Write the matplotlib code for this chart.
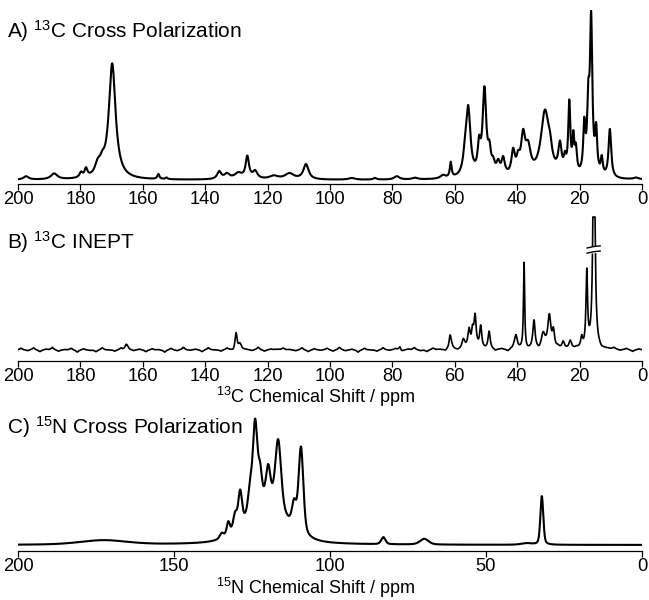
import numpy as np
import matplotlib
matplotlib.use("Agg")
import matplotlib.pyplot as plt

plt.rcParams['font.family'] = ['Liberation Sans', 'DejaVu Sans']
plt.rcParams['mathtext.fontset'] = 'custom'
plt.rcParams['mathtext.rm'] = 'Liberation Sans'
plt.rcParams['mathtext.it'] = 'Liberation Sans:italic'

# peak tables: position (ppm), height, full width (ppm)
cp13_pos = [197.4, 188.4, 179.8, 178.2, 174.5, 173.0, 169.8, 155.0, 152.4, 135.5, 133.0, 129.4,
            126.5, 124.0, 118.0, 113.0, 107.7, 93.0, 85.6, 78.6, 72.8, 63.8, 61.3, 56.7, 55.7,
            52.2, 50.5, 48.9, 47.7, 46.1, 44.5, 41.3, 39.7, 38.1, 36.5, 31.1, 29.5, 26.3, 24.7,
            23.3, 22.0, 21.2, 18.5, 17.2, 16.3, 14.7, 12.9, 10.3, 1.9]
cp13_amp = [0.02, 0.035, 0.03, 0.05, 0.06, 0.06, 0.69, 0.03, 0.01, 0.045, 0.03, 0.035,
            0.13, 0.045, 0.02, 0.035, 0.09, 0.01, 0.01, 0.02, 0.01, 0.02, 0.09, 0.09, 0.40,
            0.16, 0.51, 0.12, 0.06, 0.07, 0.10, 0.14, 0.08, 0.22, 0.15, 0.39, 0.08, 0.17, 0.08,
            0.42, 0.20, 0.14, 0.28, 0.38, 0.90, 0.25, 0.10, 0.29, 0.01]
cp13_wid = [2.0, 2.5, 1.2, 1.1, 2.0, 2.0, 2.6, 0.8, 0.8, 1.6, 2.0, 3.0,
            1.3, 1.8, 3.5, 3.5, 2.0, 2.5, 1.2, 2.0, 2.0, 2.0, 0.7, 1.4, 1.7,
            1.1, 1.4, 1.1, 1.3, 1.3, 1.3, 1.3, 1.3, 1.6, 2.0, 3.2, 1.5, 1.3, 0.9,
            0.8, 0.7, 0.8, 0.8, 0.9, 0.9, 0.8, 0.8, 1.0, 2.0]

inept_pos = [165.4, 130.1, 128.8, 117.0, 77.6, 61.5, 57.3, 55.4, 54.3, 53.5, 51.7, 49.0,
             40.4, 37.8, 34.6, 31.7, 29.7, 28.4, 25.2, 23.0, 19.3, 17.7, 15.4]
inept_amp = [0.04, 0.19, 0.05, 0.03, 0.04, 0.15, 0.09, 0.22, 0.18, 0.34, 0.25, 0.18,
             0.15, 0.97, 0.30, 0.16, 0.37, 0.18, 0.10, 0.08, 0.13, 0.84, 3.0]
inept_wid = [0.8, 0.8, 1.0, 1.3, 0.8, 0.8, 1.0, 1.0, 0.8, 0.8, 0.8, 0.8,
             1.0, 0.45, 0.8, 1.3, 1.2, 0.8, 1.0, 1.0, 0.8, 0.6, 0.7]
inept_noise = [0.02, -0.01, 0.025, -0.02, 0.01, 0.03, -0.015, 0.005, 0.02, -0.025,
               0.015, -0.005, -0.02, 0.025, 0.0, -0.015, 0.02, 0.035, -0.01, 0.01,
               -0.02, 0.015, 0.005, -0.025, 0.02, -0.01, 0.03, -0.005, 0.01, -0.02,
               0.025, 0.0, -0.015, 0.02, -0.02, 0.015, 0.005, -0.01, 0.03, -0.015,
               0.01, -0.025, 0.02, 0.005, -0.01, 0.025, -0.02, 0.015, -0.005, 0.02,
               -0.015, 0.03, -0.01, 0.01, -0.025, 0.02, 0.0, -0.015, 0.025, -0.005,
               0.015, -0.02, 0.01, 0.025, -0.01, -0.02, 0.02, 0.005, -0.015, 0.03,
               -0.01, 0.02, -0.025, 0.015, 0.0, 0.02, -0.015, 0.01, -0.02, 0.025,
               0.005, -0.01, 0.03, -0.02, 0.015, -0.005, 0.02, -0.025, 0.01, 0.015,
               -0.02, 0.01, 0.025, -0.015, 0.005, 0.02, -0.01, 0.015, -0.02, 0.01]

cp15_pos = [172.6, 120.5, 134.7, 132.6, 130.4, 128.8, 125.6, 124.0, 122.4, 119.8, 116.6,
            111.5, 109.3, 82.9, 69.8, 37.0, 32.1]
cp15_amp = [0.035, 0.33, 0.04, 0.10, 0.12, 0.26, 0.18, 0.66, 0.22, 0.26, 0.54,
            0.18, 0.67, 0.055, 0.045, 0.012, 0.38]
cp15_wid = [18.0, 15.0, 1.5, 1.2, 1.5, 1.4, 1.5, 1.7, 1.4, 1.7, 2.2,
            1.6, 1.8, 1.6, 3.2, 4.0, 1.1]

c13_ticks = [200, 180, 160, 140, 120, 100, 80, 60, 40, 20, 0]
n15_ticks = [200, 150, 100, 50, 0]


def spectrum(x, pos, amp, wid, eta=1.0):
    # pseudo-Voigt lines: eta = Lorentzian fraction
    y = np.zeros_like(x)
    for p, a, w in zip(pos, amp, wid):
        lor = 1 / (1 + ((x - p) / (w / 2)) ** 2)
        gau = np.exp(-4 * np.log(2) * ((x - p) / w) ** 2)
        y += a * (eta * lor + (1 - eta) * gau)
    return y


x = np.linspace(200, 0, 4001)
y_a = spectrum(x, cp13_pos, cp13_amp, cp13_wid)
noise_pos = np.arange(199, 0, -2)
y_b = spectrum(x, inept_pos, inept_amp, inept_wid) + spectrum(x, noise_pos, inept_noise, [1.0] * len(noise_pos))
y_b = np.minimum(y_b, 1.494)
y_c = spectrum(x, cp15_pos, cp15_amp, cp15_wid, eta=0.4)

fig = plt.figure(figsize=(6.49, 6.0), dpi=100)
ax_a = fig.add_axes([0.0277, 0.6933, 0.9615, 0.29])
ax_b = fig.add_axes([0.0277, 0.39833, 0.9615, 0.2517])
ax_c = fig.add_axes([0.0277, 0.0817, 0.9615, 0.2383])

ax_a.plot(x, y_a, color='black', lw=1.5)
ax_a.set_ylim(-4 / 167, 170 / 167)
ax_a.set_xticks(c13_ticks)

ax_b.plot(x, y_b, color='black', lw=1.2)
ax_b.set_ylim(-11 / 89, 140 / 89)
ax_b.set_xticks(c13_ticks)
# axis break marks on the truncated peak
ax_b.fill_between([17.6, 13.4], [1.09, 1.11], [1.15, 1.17], color='white', zorder=3)
for yb in (1.10, 1.158):
    ax_b.plot([17.6, 15.5, 13.4], [yb - 0.012, yb + 0.004, yb + 0.012], color='black', lw=1.0, zorder=4)

ax_c.plot(x, y_c, color='black', lw=1.5)
ax_c.set_ylim(-6 / 128, 137 / 128)
ax_c.set_xticks(n15_ticks)

for ax in (ax_a, ax_b, ax_c):
    ax.set_xlim(200, 0)
    ax.set_yticks([])
    for s in ('left', 'right', 'top'):
        ax.spines[s].set_visible(False)
    ax.spines['bottom'].set_linewidth(0.9)
    ax.tick_params(axis='x', direction='out', length=4, width=0.9, labelsize=13.2, pad=1.0)
    ax.patch.set_alpha(0)

fig.text(7 / 649, 1 - 31 / 600, r'A) $^{13}$C Cross Polarization', fontsize=15, va='center', ha='left')
fig.text(7 / 649, 1 - 242 / 600, r'B) $^{13}$C INEPT', fontsize=15, va='center', ha='left')
fig.text(7 / 649, 1 - 427 / 600, r'C) $^{15}$N Cross Polarization', fontsize=15, va='center', ha='left')
fig.text(316 / 649, 1 - 397 / 600, r'$^{13}$C Chemical Shift / ppm', fontsize=13, va='center', ha='center')
fig.text(316 / 649, 1 - 588 / 600, r'$^{15}$N Chemical Shift / ppm', fontsize=13, va='center', ha='center')

fig.savefig('out.png', dpi=100)
